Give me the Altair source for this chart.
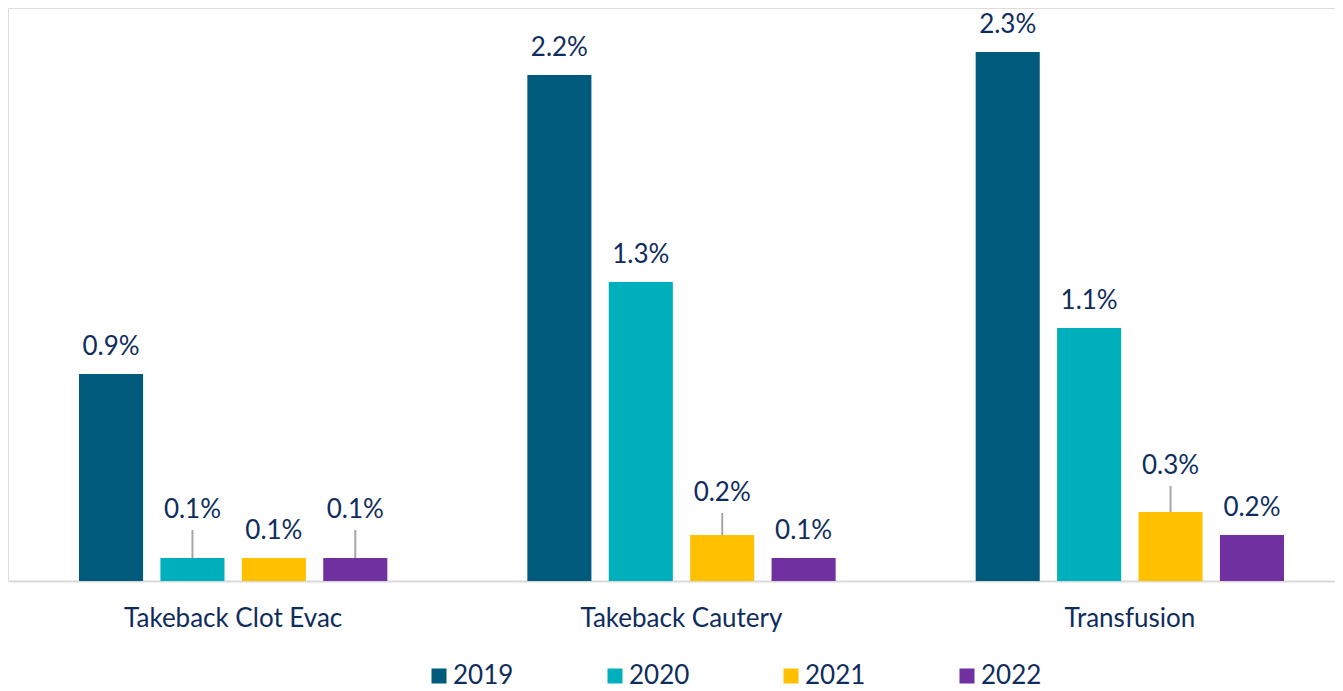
import altair as alt
import pandas as pd

categories = ["Takeback Clot Evac", "Takeback Cautery", "Transfusion"]
years = ["2019", "2020", "2021", "2022"]
v2019 = [0.9, 2.2, 2.3]
v2020 = [0.1, 1.3, 1.1]
v2021 = [0.1, 0.2, 0.3]
v2022 = [0.1, 0.1, 0.2]
colors = ["#005A7B", "#00AFBC", "#FFC000", "#7030A0"]

# upward shift (pixels) of labels that carry a leader line, per year then category
label_lift_px = {
    "2019": [0, 0, 0],
    "2020": [21, 0, 0],
    "2021": [0, 15, 19],
    "2022": [21, 0, 0],
}

PX_PER_UNIT = 230.0
VIEW_H = 573
Y_MAX = VIEW_H / PX_PER_UNIT

series = {"2019": v2019, "2020": v2020, "2021": v2021, "2022": v2022}
rows = []
for yr in years:
    for i, cat in enumerate(categories):
        v = series[yr][i]
        lift = label_lift_px[yr][i] / PX_PER_UNIT
        rows.append({
            "category": cat,
            "year": yr,
            "value": v,
            "label": f"{v:.1f}%",
            "label_y": v + lift,
            "leader": lift > 0,
        })
df = pd.DataFrame(rows)

FONT = "Lato"
TXT = "#0F2D5C"
FS = 26

x_enc = alt.X(
    "category:N",
    sort=categories,
    scale=alt.Scale(range=[1, 1346], paddingInner=0, paddingOuter=0),
    axis=alt.Axis(
        title=None,
        labelAngle=0,
        labelFont=FONT,
        labelFontSize=FS,
        labelColor=TXT,
        labelBaseline="middle",
        labelPadding=37,
        labelLimit=600,
        ticks=False,
        tickSize=0,
        domainColor="#D9D9D9",
        domainWidth=2,
        grid=False,
    ),
)
xoff_enc = alt.XOffset(
    "year:N", sort=years, scale=alt.Scale(paddingInner=0.213, paddingOuter=0.86)
)
y_scale = alt.Scale(domain=[0, Y_MAX], nice=False, zero=True)

base = alt.Chart(df)

bars = base.mark_bar().encode(
    x=x_enc,
    xOffset=xoff_enc,
    y=alt.Y("value:Q", scale=y_scale, axis=None),
    color=alt.Color(
        "year:N",
        sort=years,
        scale=alt.Scale(domain=years, range=colors),
        legend=alt.Legend(
            title=None,
            orient="none",
            legendX=418,
            legendY=655,
            direction="horizontal",
            columns=4,
            symbolType="square",
            symbolSize=225,
            symbolStrokeWidth=0,
            labelFont=FONT,
            labelFontSize=FS,
            labelColor=TXT,
            labelOffset=1,
            columnPadding=88,
            padding=0,
        ),
    ),
)

leaders = base.transform_filter("datum.leader").mark_rule(
    color="#A6A6A6", strokeWidth=2, y2Offset=-7
).encode(
    x=x_enc,
    xOffset=xoff_enc,
    y=alt.Y("value:Q", scale=y_scale, axis=None),
    y2="label_y:Q",
)

labels = base.mark_text(
    font=FONT, fontSize=FS, color=TXT, baseline="middle", dy=-27
).encode(
    x=x_enc,
    xOffset=xoff_enc,
    y=alt.Y("label_y:Q", scale=y_scale, axis=None),
    text="label:N",
)

chart = (
    alt.layer(bars, leaders, labels)
    .properties(
        width=1327,
        height=VIEW_H,
        autosize=alt.AutoSizeParams(type="none"),
        padding={"left": 0, "top": 0, "right": 0, "bottom": 110},
    )
    .configure_view(strokeWidth=0)
    .configure(background="white")
)

chart.save("out.html", embed_options={"renderer": "svg", "actions": False})
